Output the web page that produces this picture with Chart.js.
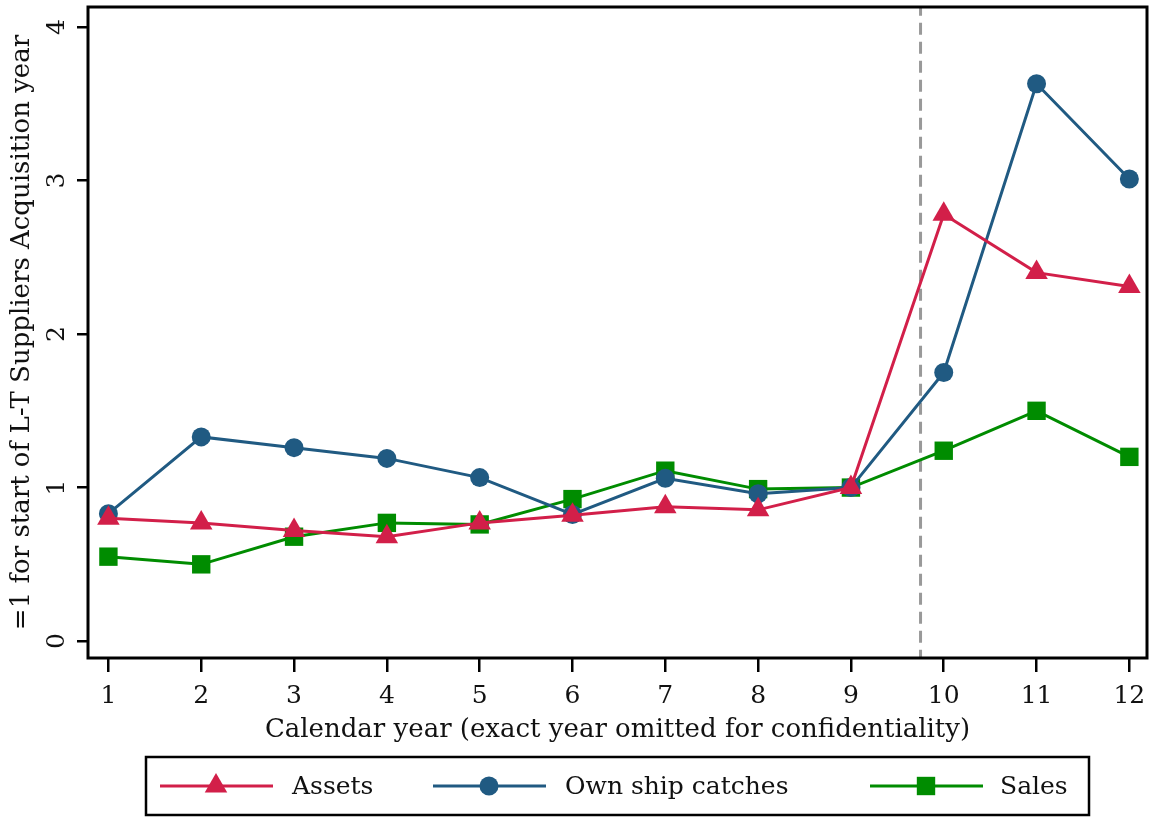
<!DOCTYPE html>
<html>
<head>
<meta charset="utf-8">
<script src="https://cdn.jsdelivr.net/npm/chart.js@4/dist/chart.umd.min.js"></script>
<style>
  html, body { margin: 0; padding: 0; background: #fff; }
  #wrap { width: 1152px; height: 817px; position: relative; }
</style>
</head>
<body>
<div id="wrap"><canvas id="chart" width="1152" height="817"></canvas></div>
<script>
// years on the x axis (exact years hidden)
const years = [1, 2, 3, 4, 5, 6, 7, 8, 9, 10, 11, 12];

// index, =1 at start of the acquisition year
const assets = [0.80, 0.77, 0.72, 0.68, 0.77, 0.82, 0.875, 0.855, 1.00, 2.78, 2.40, 2.31];
const ownShipCatches = [0.83, 1.33, 1.26, 1.19, 1.065, 0.825, 1.06, 0.96, 1.00, 1.75, 3.63, 3.01];
const sales = [0.55, 0.50, 0.68, 0.77, 0.76, 0.925, 1.11, 0.99, 1.00, 1.24, 1.50, 1.20];

const seriesNames = ['Assets', 'Own ship catches', 'Sales'];
const xTicks = [1, 2, 3, 4, 5, 6, 7, 8, 9, 10, 11, 12];
const yTicks = [0, 1, 2, 3, 4];
const acquisitionLine = 9.75;

const FONT = '"DejaVu Serif", "Liberation Serif", serif';
const INK = '#111';
const RED = '#d21f49';
const BLUE = '#205a82';
const GREEN = '#008c00';

const toXY = arr => arr.map((v, i) => ({ x: years[i], y: v }));

// big markers would otherwise push the plot frame inwards
Chart.LineController.prototype.getMaxOverflow = function () { return 0; };

// frame + y labels + legend box (Stata look)
const stataDecor = {
  id: 'stataDecor',
  afterDraw(chart) {
    const ctx = chart.ctx;
    const a = chart.chartArea;
    const ys = chart.scales.y;

    ctx.save();
    ctx.strokeStyle = '#000';
    ctx.lineWidth = 3;
    ctx.strokeRect(a.left, a.top, a.right - a.left, a.bottom - a.top);

    // rotated y tick labels
    ctx.fillStyle = INK;
    ctx.font = '25px ' + FONT;
    ctx.textAlign = 'center';
    ctx.textBaseline = 'middle';
    ys.ticks.forEach(t => {
      const py = ys.getPixelForValue(t.value);
      ctx.save();
      ctx.translate(a.left - 31, py);
      ctx.rotate(-Math.PI / 2);
      ctx.fillText(String(t.value), 0, 0);
      ctx.restore();
    });

    // legend
    const box = { x: 146, y: 757, w: 943, h: 58 };
    ctx.strokeStyle = '#000';
    ctx.lineWidth = 2.5;
    ctx.strokeRect(box.x, box.y, box.w, box.h);
    const cy = box.y + box.h / 2;
    const items = [
      { lx: 160, tx: 292 },
      { lx: 433, tx: 565 },
      { lx: 870, tx: 1000 }
    ];
    chart.data.datasets.slice(1).forEach((ds, i) => {
      const it = items[i];
      ctx.strokeStyle = ds.borderColor;
      ctx.lineWidth = 3;
      ctx.beginPath();
      ctx.moveTo(it.lx, cy);
      ctx.lineTo(it.lx + 113, cy);
      ctx.stroke();
      ctx.fillStyle = ds.pointBackgroundColor;
      Chart.helpers.drawPoint(ctx, {
        pointStyle: ds.pointStyle,
        radius: ds.pointRadius,
        rotation: 0,
        borderWidth: 0
      }, it.lx + 56, cy);
      ctx.fillStyle = INK;
      ctx.font = '25px ' + FONT;
      ctx.textAlign = 'left';
      ctx.textBaseline = 'middle';
      ctx.fillText(ds.label, it.tx, cy + 1);
    });
    ctx.restore();
  }
};

const lineSet = (label, values, color, style, radius) => ({
  label,
  data: toXY(values),
  borderColor: color,
  backgroundColor: color,
  pointBackgroundColor: color,
  pointBorderColor: color,
  pointBorderWidth: 0,
  pointStyle: style,
  pointRadius: radius,
  pointHoverRadius: radius,
  borderWidth: 3,
  tension: 0,
  order: 1
});

new Chart(document.getElementById('chart'), {
  type: 'line',
  data: {
    datasets: [
      {
        label: 'acquisition',
        data: [{ x: acquisitionLine, y: -1 }, { x: acquisitionLine, y: 5 }],
        borderColor: '#999999',
        borderWidth: 3,
        borderDash: [12, 7],
        pointRadius: 0,
        order: 10
      },
      lineSet(seriesNames[0], assets, RED, 'triangle', 13),
      lineSet(seriesNames[1], ownShipCatches, BLUE, 'circle', 9.5),
      lineSet(seriesNames[2], sales, GREEN, 'rect', 13)
    ]
  },
  options: {
    responsive: false,
    animation: false,
    layout: { padding: { top: 7, right: 5, bottom: 71, left: 0 } },
    plugins: {
      legend: { display: false },
      tooltip: { enabled: false }
    },
    scales: {
      x: {
        type: 'linear',
        min: 0.78,
        max: 12.19,
        afterBuildTicks: s => { s.ticks = xTicks.map(v => ({ value: v })); },
        afterFit: s => { s.height = 88; s.paddingLeft = 0; s.paddingRight = 0; },
        border: { display: false },
        grid: {
          drawOnChartArea: false,
          color: '#000',
          lineWidth: 2.5,
          tickLength: 14
        },
        ticks: {
          color: INK,
          font: { family: FONT, size: 25 },
          padding: 9,
          maxRotation: 0
        },
        title: {
          display: true,
          text: 'Calendar year (exact year omitted for confidentiality)',
          color: INK,
          font: { family: FONT, size: 26 },
          padding: { top: 0, bottom: 0 }
        }
      },
      y: {
        type: 'linear',
        min: -0.11,
        max: 4.13,
        afterBuildTicks: s => { s.ticks = yTicks.map(v => ({ value: v })); },
        afterFit: s => { s.width = 88; s.paddingTop = 0; s.paddingBottom = 0; },
        border: { display: false },
        grid: {
          drawOnChartArea: false,
          color: '#000',
          lineWidth: 2.5,
          tickLength: 11
        },
        ticks: { display: false },
        title: {
          display: true,
          text: '=1 for start of L-T Suppliers Acquisition year',
          color: INK,
          font: { family: FONT, size: 26 },
          padding: { top: 7, bottom: 0 }
        }
      }
    }
  },
  plugins: [stataDecor]
});
</script>
</body>
</html>
